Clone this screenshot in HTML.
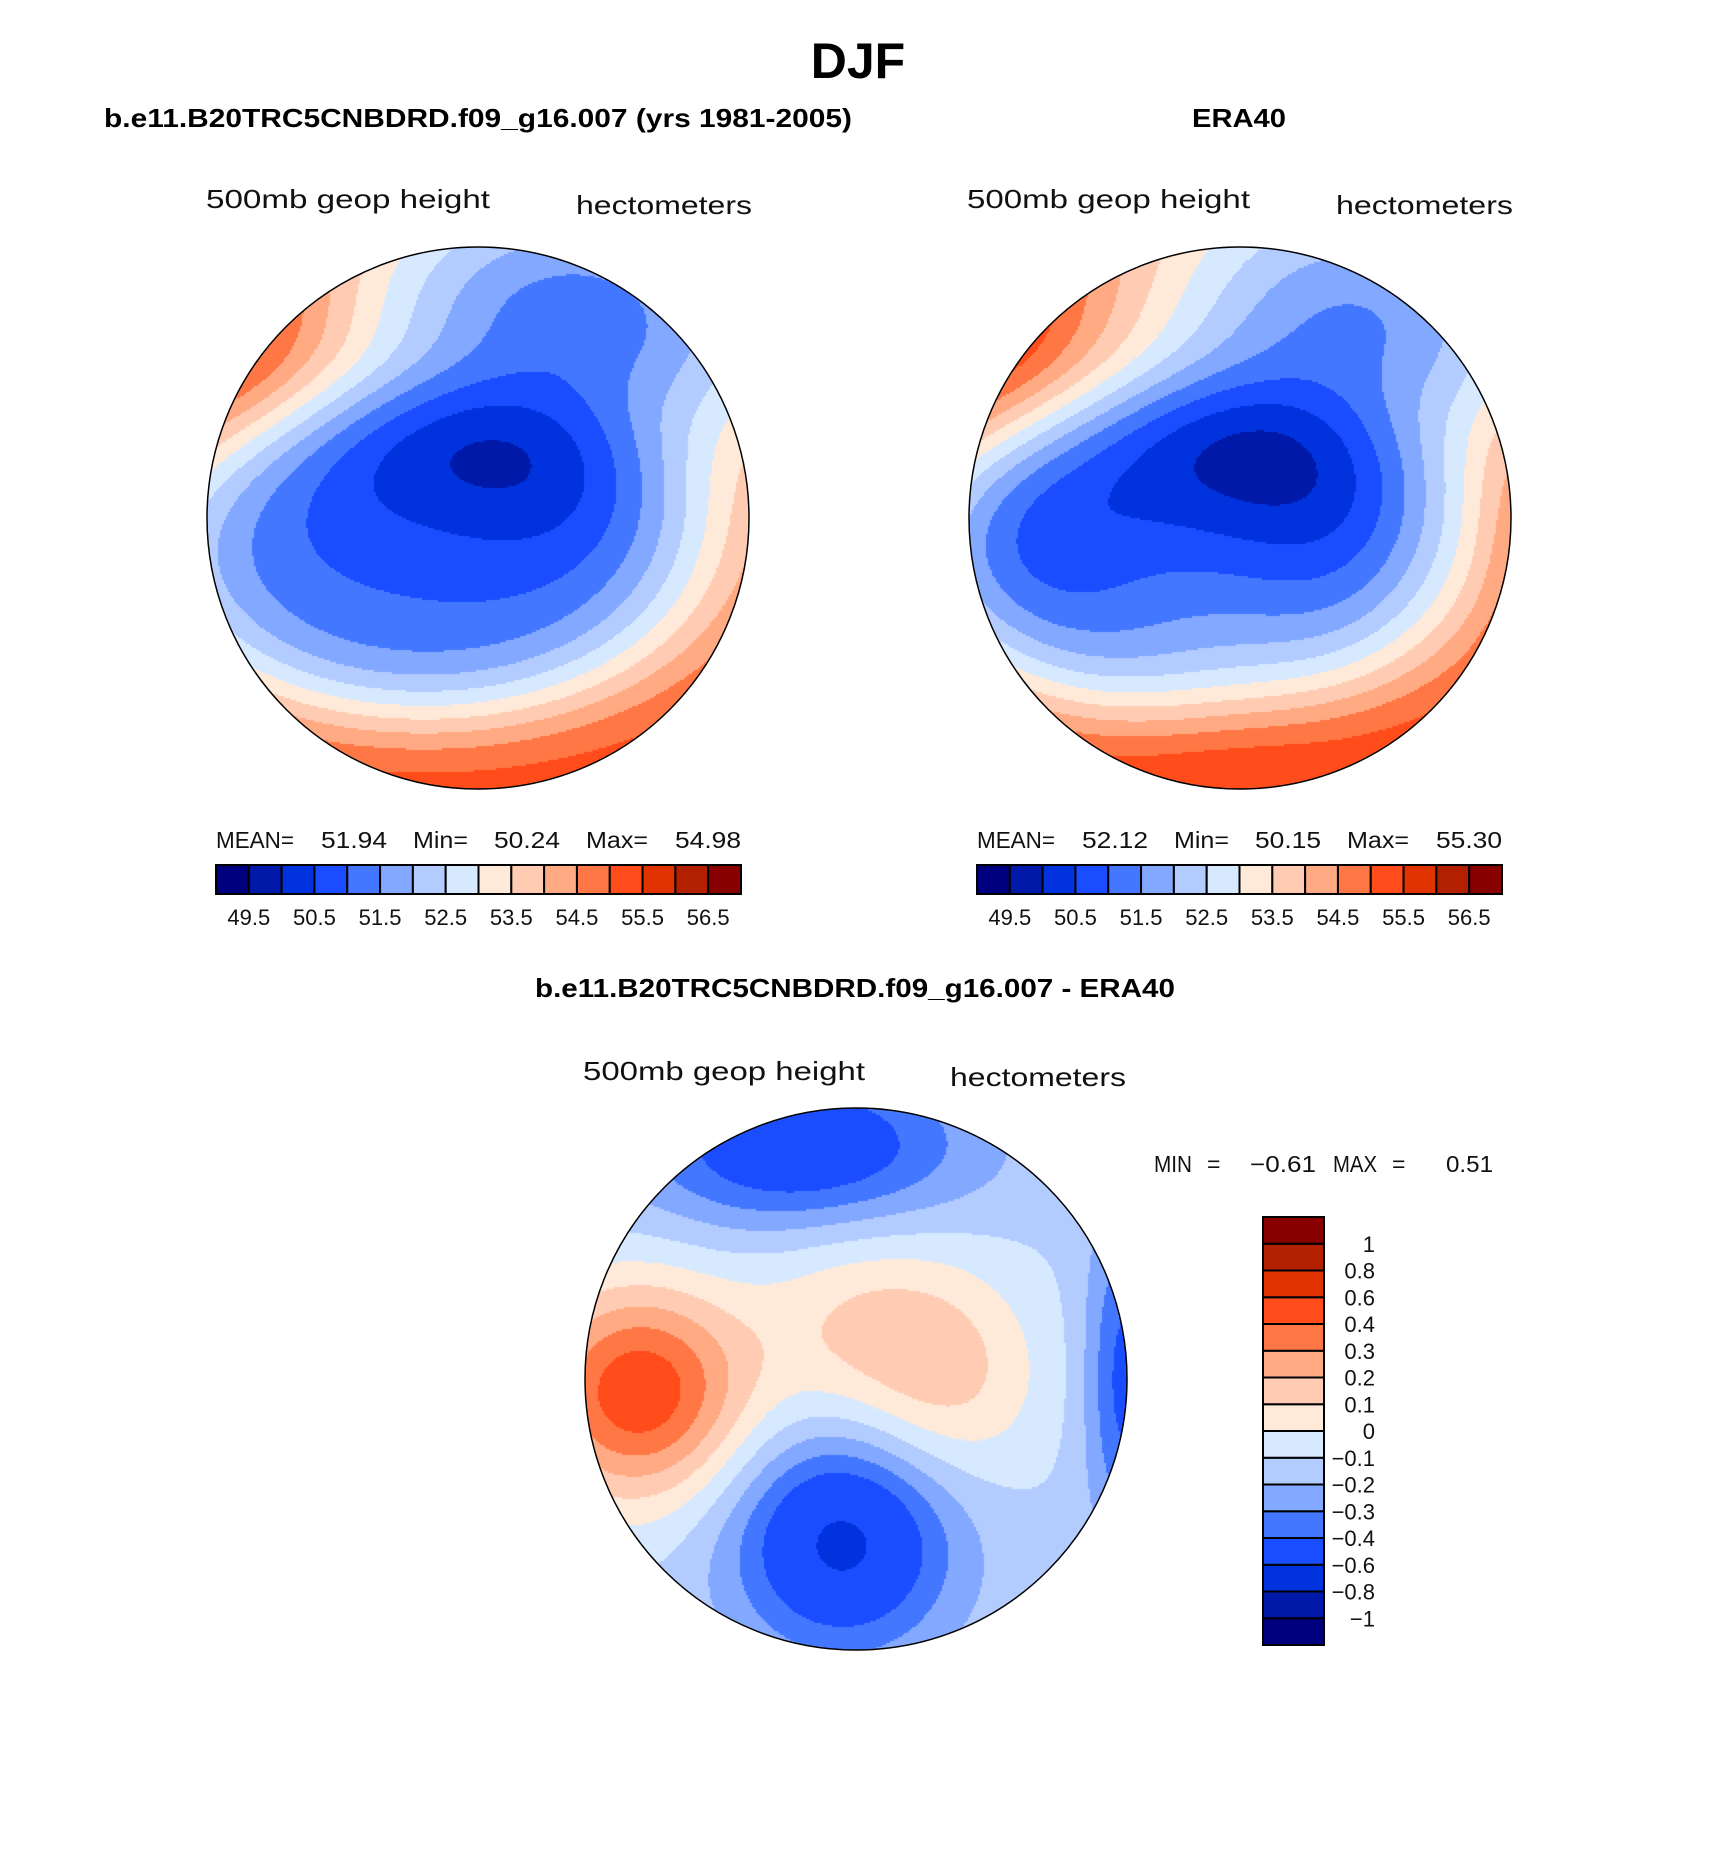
<!DOCTYPE html>
<html><head><meta charset="utf-8"><style>
html,body{margin:0;padding:0;background:#fff;}
#wrap{position:relative;width:1710px;height:1863px;overflow:hidden;}
svg{position:absolute;left:0;top:0;}
canvas{position:absolute;}
</style></head><body>
<div id="wrap">
<canvas id="m1" width="544" height="544" style="left:206px;top:246px"></canvas>
<canvas id="m2" width="544" height="544" style="left:968px;top:246px"></canvas>
<canvas id="m3" width="544" height="544" style="left:584px;top:1107px"></canvas>
<svg id="s" width="1710" height="1863" font-family="Liberation Sans, sans-serif">
<text x="858" y="78" font-size="50" font-weight="bold" text-anchor="middle">DJF</text>
<text x="104" y="127" font-size="26" font-weight="bold" textLength="748" lengthAdjust="spacingAndGlyphs">b.e11.B20TRC5CNBDRD.f09_g16.007 (yrs 1981-2005)</text>
<text x="1192" y="127" font-size="26" font-weight="bold" textLength="94" lengthAdjust="spacingAndGlyphs">ERA40</text>
<g font-size="26" fill="#111">
<text x="206" y="208" textLength="284" lengthAdjust="spacingAndGlyphs">500mb geop height</text>
<text x="576" y="214" textLength="176" lengthAdjust="spacingAndGlyphs">hectometers</text>
<text x="967" y="208" textLength="283" lengthAdjust="spacingAndGlyphs">500mb geop height</text>
<text x="1336" y="214" textLength="177" lengthAdjust="spacingAndGlyphs">hectometers</text>
<text x="583" y="1080" textLength="282" lengthAdjust="spacingAndGlyphs">500mb geop height</text>
<text x="950" y="1086" textLength="176" lengthAdjust="spacingAndGlyphs">hectometers</text>
</g>
<text x="855" y="997" font-size="26" font-weight="bold" text-anchor="middle" textLength="640" lengthAdjust="spacingAndGlyphs">b.e11.B20TRC5CNBDRD.f09_g16.007 - ERA40</text>
<g font-size="23" fill="#111">
<g>
<text x="216" y="848" textLength="78" lengthAdjust="spacingAndGlyphs">MEAN=</text><text x="321" y="848" textLength="66" lengthAdjust="spacingAndGlyphs">51.94</text>
<text x="413" y="848" textLength="55" lengthAdjust="spacingAndGlyphs">Min=</text><text x="494" y="848" textLength="66" lengthAdjust="spacingAndGlyphs">50.24</text>
<text x="586" y="848" textLength="62" lengthAdjust="spacingAndGlyphs">Max=</text><text x="675" y="848" textLength="66" lengthAdjust="spacingAndGlyphs">54.98</text>
</g>
<g>
<text x="977" y="848" textLength="78" lengthAdjust="spacingAndGlyphs">MEAN=</text><text x="1082" y="848" textLength="66" lengthAdjust="spacingAndGlyphs">52.12</text>
<text x="1174" y="848" textLength="55" lengthAdjust="spacingAndGlyphs">Min=</text><text x="1255" y="848" textLength="66" lengthAdjust="spacingAndGlyphs">50.15</text>
<text x="1347" y="848" textLength="62" lengthAdjust="spacingAndGlyphs">Max=</text><text x="1436" y="848" textLength="66" lengthAdjust="spacingAndGlyphs">55.30</text>
</g>
<g>
<text x="1154" y="1172" textLength="38" lengthAdjust="spacingAndGlyphs">MIN</text><text x="1207" y="1172">=</text>
<text x="1250" y="1172" textLength="66" lengthAdjust="spacingAndGlyphs">−0.61</text>
<text x="1333" y="1172" textLength="44" lengthAdjust="spacingAndGlyphs">MAX</text><text x="1392" y="1172">=</text>
<text x="1446" y="1172" textLength="47" lengthAdjust="spacingAndGlyphs">0.51</text>
</g>
</g>
<g id="cb"></g>
<circle cx="478" cy="518" r="271" fill="none" stroke="#000" stroke-width="1.5"/>
<circle cx="1240" cy="518" r="271" fill="none" stroke="#000" stroke-width="1.5"/>
<circle cx="856" cy="1379" r="271" fill="none" stroke="#000" stroke-width="1.5"/>
</svg>
</div>
<script>
const colors=["#00007f","#0019a8","#0033dd","#1a4dff","#4377ff","#83a8ff","#b3ccff","#d6e9ff","#ffe9d9","#ffccb3","#ffaa83","#ff7744","#ff4c1a","#e03300","#b32000","#880000"];
const absLevels=[49.5,50,50.5,51,51.5,52,52.5,53,53.5,54,54.5,55,55.5,56,56.5];
const absTickLabels=["49.5","50.5","51.5","52.5","53.5","54.5","55.5","56.5"];
const diffLevels=[-1,-0.8,-0.6,-0.4,-0.3,-0.2,-0.1,0,0.1,0.2,0.3,0.4,0.6,0.8,1];
const diffTickLabels=["−1","−0.8","−0.6","−0.4","−0.3","−0.2","−0.1","0","0.1","0.2","0.3","0.4","0.6","0.8","1"];
// model field: background + bumps (u,w normalized, amplitude, sigma-u, sigma-w, power)
const modelBase=[55,0,0.3];
const modelBumpU=[-0.2,0.35,-1.0];
const modelBumpW=[0.15,-0.7,-0.8];
const modelBumpA=[-3.95,-3.6,1.5];
const modelBumpSU=[1.05,0.9,0.45];
const modelBumpSW=[0.62,0.6,0.45];
const modelBumpP=[2,1,1];
// difference field (model - ERA40)
const diffBase=-0.12;
const diffBumpU=[-0.05,-0.8,0.35,-0.2,1.0,0.0];
const diffBumpW=[0.6,0.05,0.0,-0.85,0.0,-0.2];
const diffBumpA=[-0.52,0.6,0.22,-0.42,-0.33,0.2];
const diffBumpSU=[0.4,0.4,0.35,0.6,0.15,0.4];
const diffBumpSW=[0.4,0.4,0.4,0.3,0.6,0.4];
const diffBumpP=[1,1,1,1,1,1];

function bumps(u,w,U,W,A,SU,SW,P){let v=0;for(let i=0;i<U.length;i++){const d=((u-U[i])/SU[i])**2+((w-W[i])/SW[i])**2;v+=A[i]*Math.exp(-Math.pow(d,P[i]));}return v;}
function modelVal(u,w){return modelBase[0]+modelBase[1]*u+modelBase[2]*w+bumps(u,w,modelBumpU,modelBumpW,modelBumpA,modelBumpSU,modelBumpSW,modelBumpP);}
function diffVal(u,w){return diffBase+bumps(u,w,diffBumpU,diffBumpW,diffBumpA,diffBumpSU,diffBumpSW,diffBumpP);}
function eraVal(u,w){return modelVal(u,w)-diffVal(u,w);}
function cls(v,lv){let i=0;while(i<lv.length&&v>=lv[i])i++;return i;}
function drawMap(id,fn,lv){
  const c=document.getElementById(id),ctx=c.getContext('2d');const R=271,cx=272,cy=272,st=2;
  ctx.save();ctx.beginPath();ctx.arc(cx,cy,R,0,Math.PI*2);ctx.clip();
  for(let y=0;y<544;y+=st)for(let x=0;x<544;x+=st){
    const u=(x+1-cx)/R,w=(y+1-cy)/R;if(u*u+w*w>1.02)continue;
    ctx.fillStyle=colors[cls(fn(u,w),lv)];ctx.fillRect(x,y,st,st);}
  ctx.restore();
}
drawMap('m1',modelVal,absLevels);
drawMap('m2',eraVal,absLevels);
drawMap('m3',diffVal,diffLevels);

const NS="http://www.w3.org/2000/svg",cb=document.getElementById('cb');
function mk(t,a){const e=document.createElementNS(NS,t);for(const k in a)e.setAttribute(k,a[k]);cb.appendChild(e);return e;}
function hbar(x0,x1,y0,y1,pre){
  const bw=(x1-x0)/colors.length;
  colors.forEach((col,i)=>{const r=mk('rect',{x:x0+i*bw,y:y0,width:bw,height:y1-y0,fill:col,stroke:'#000','stroke-width':2});
    
    });
  absTickLabels.forEach((lab,j)=>{const idx=absLevels.indexOf(parseFloat(lab));
    const t=mk('text',{x:x0+(idx+1)*bw,y:y1+31,'font-size':22,'text-anchor':'middle',fill:'#111'});t.textContent=lab;
    
    });
}
hbar(216,741,865,894,'model');
hbar(977,1502,865,894,'era40');
(function(){const x0=1263,x1=1324,y0=1217,y1=1645,n=colors.length,bh=(y1-y0)/n;
  colors.forEach((col,i)=>{const r=mk('rect',{x:x0,y:y1-(i+1)*bh,width:x1-x0,height:bh,fill:col,stroke:'#000','stroke-width':2});
    
    });
  diffTickLabels.forEach((lab,i)=>{const t=mk('text',{x:1375,y:y1-(i+1)*bh+8,'font-size':22,'text-anchor':'end',fill:'#111'});t.textContent=lab;
    
    });
})();
</script>
</body></html>
